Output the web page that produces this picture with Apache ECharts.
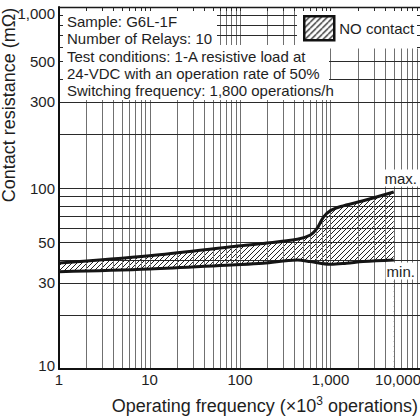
<!DOCTYPE html>
<html>
<head>
<meta charset="utf-8">
<script src="https://cdn.jsdelivr.net/npm/echarts@6/dist/echarts.min.js"></script>
<style>
html,body{margin:0;padding:0;background:#fff;}
#c{width:420px;height:418px;}
</style>
</head>
<body>
<div id="c"></div>
<script>
// ---------- data ----------
const maxX = [1, 10, 80, 180, 430, 600, 710, 840, 1000, 1300, 2300, 5000];
const maxY = [38.5, 42.3, 47.4, 49.4, 52.1, 55, 59.8, 69.3, 75, 79, 85, 95];
const minX = [1, 10, 80, 180, 430, 600, 1000, 1500, 2300, 5000];
const minY = [34.5, 35.7, 37.6, 38.4, 40, 39.2, 37.9, 38.4, 39.2, 40];

const xTickLabels = ['1', '10', '100', '1,000', '10,000'];
const yTickValues = [10, 30, 50, 100, 300, 500, 1000];
const yTickLabels = ['10', '30', '50', '100', '300', '500', '1,000'];
const xDecades = [1, 10, 100, 1000];
const mantissas = [1, 2, 3, 4, 5, 6, 7, 8, 9];
const yGrid = [20, 30, 40, 50, 60, 70, 80, 90, 100, 200, 300, 400, 500, 600, 700, 800, 900];
const noteLines = [
  'Sample: G6L-1F',
  'Number of Relays: 10',
  'Test conditions: 1-A resistive load at',
  '24-VDC with an operation rate of 50%',
  'Switching frequency: 1,800 operations/h'
];
const legendName = 'NO contact';
const maxLabel = 'max.';
const minLabel = 'min.';
const xTitle = ['Operating frequency (\u00d710', '3', ' operations)'];
const yTitle = 'Contact resistance (m\u03a9)';

// ---------- helpers ----------
const xGrid = [];
xDecades.forEach(d => mantissas.forEach(m => { if (d * m > 1) xGrid.push(d * m); }));
const maxPts = maxX.map((x, i) => [x, maxY[i]]);
const minPts = minX.map((x, i) => [x, minY[i]]);

const FONT = "'Liberation Sans', Arial, Helvetica, sans-serif";
const TXT = '#1e1e1e';
const FS = 15;
const X_MIN = 1, X_MAX = 10000, Y_MIN = 10, Y_MAX = 1000;
const SMOOTH = 0.35;

function makeHatch(size, lw, color) {
  const c = document.createElement('canvas');
  c.width = size; c.height = size;
  const g = c.getContext('2d');
  g.fillStyle = '#fff';
  g.fillRect(0, 0, size, size);
  g.strokeStyle = color;
  g.lineWidth = lw;
  g.beginPath();
  for (let k = -1; k <= 1; k++) {
    g.moveTo(k * size, size);
    g.lineTo(k * size + size, 0);
  }
  g.stroke();
  return c;
}
const hatch = { image: makeHatch(5, 1, '#222'), repeat: 'repeat', imageWidth: 5, imageHeight: 5 };
const hatchLegend = { image: makeHatch(6, 1.3, '#222'), repeat: 'repeat', imageWidth: 6, imageHeight: 6 };

function gridRender(params, api) {
  const cs = params.coordSys;
  const children = [];
  xGrid.forEach(v => {
    const px = Math.round(api.coord([v, Y_MIN])[0]) + 0.5;
    children.push({ type: 'line', shape: { x1: px, y1: cs.y, x2: px, y2: cs.y + cs.height },
      style: { stroke: '#707070', lineWidth: 1 } });
  });
  yGrid.forEach(v => {
    const py = Math.round(api.coord([X_MIN, v])[1]) + 0.5;
    children.push({ type: 'line', shape: { x1: cs.x, y1: py, x2: cs.x + cs.width, y2: py },
      style: { stroke: '#2a2a2a', lineWidth: 1 } });
  });
  return { type: 'group', children };
}

function tickRender(params, api) {
  const cs = params.coordSys;
  const L = 4;
  const children = [];
  const top = cs.y, bottom = cs.y + cs.height, left = cs.x, right = cs.x + cs.width;
  xGrid.forEach(v => {
    const px = Math.round(api.coord([v, Y_MIN])[0]) + 0.5;
    children.push({ type: 'line', shape: { x1: px, y1: top, x2: px, y2: top + L },
      style: { stroke: '#2a2a2a', lineWidth: 1 } });
  });
  yGrid.forEach(v => {
    const py = Math.round(api.coord([X_MIN, v])[1]) + 0.5;
    children.push({ type: 'line', shape: { x1: left, y1: py, x2: left + L, y2: py },
      style: { stroke: '#2a2a2a', lineWidth: 1 } });
    children.push({ type: 'line', shape: { x1: right - L, y1: py, x2: right, y2: py },
      style: { stroke: '#2a2a2a', lineWidth: 1 } });
  });
  children.push({ type: 'line', shape: { x1: left, y1: top + 0.5, x2: right, y2: top + 0.5 },
    style: { stroke: '#1a1a1a', lineWidth: 1.6 } });
  yTickValues.forEach((v, i) => {
    let py = api.coord([X_MIN, v])[1];
    py = Math.min(Math.max(py, top + 6), bottom - 4);
    children.push({ type: 'text', x: left - 4, y: py,
      style: { text: yTickLabels[i], fill: TXT, fontSize: FS, fontFamily: FONT,
        align: 'right', verticalAlign: 'middle' } });
  });
  return { type: 'group', children };
}

const chart = echarts.init(document.getElementById('c'), null, { renderer: 'svg', width: 420, height: 418 });

const option = {
  animation: false,
  backgroundColor: '#fff',
  textStyle: { fontFamily: FONT },
  grid: { left: 59, right: -1, top: 7, bottom: 49, containLabel: false, outerBoundsMode: 'none' },
  xAxis: {
    type: 'log', logBase: 10, min: X_MIN, max: X_MAX, z: 7,
    axisLine: { show: true, onZero: false, lineStyle: { color: '#111', width: 2 } },
    axisTick: { show: false },
    minorTick: { show: false },
    splitLine: { show: false },
    axisLabel: {
      show: true, margin: 3, fontSize: FS, color: TXT, fontFamily: FONT,
      alignMaxLabel: 'right', hideOverlap: false,
      formatter: v => xTickLabels[Math.round(Math.log10(v))]
    }
  },
  yAxis: {
    type: 'log', logBase: 10, min: Y_MIN, max: Y_MAX, z: 7,
    axisLine: { show: true, onZero: false, lineStyle: { color: '#111', width: 2 } },
    axisTick: { show: false },
    minorTick: { show: false },
    splitLine: { show: false },
    axisLabel: { show: false }
  },
  legend: {
    left: 297, top: 7, orient: 'horizontal',
    padding: [8, 6, 7, 6],
    backgroundColor: '#fff',
    itemWidth: 30, itemHeight: 24,
    selectedMode: false,
    z: 5,
    textStyle: { fontSize: FS, color: TXT, fontFamily: FONT },
    data: [{
      name: legendName, icon: 'rect',
      itemStyle: { color: hatchLegend, borderColor: '#111', borderWidth: 2.5 }
    }]
  },
  graphic: [
    { type: 'rect', z: 5, silent: true, shape: { x: 59, y: 7, width: 158, height: 38 }, style: { fill: '#fff' } },
    { type: 'rect', z: 5, silent: true, shape: { x: 59, y: 45, width: 270, height: 35 }, style: { fill: '#fff' } },
    { type: 'rect', z: 5, silent: true, shape: { x: 59, y: 80, width: 279, height: 20 }, style: { fill: '#fff' } },
    { type: 'text', z: 5, silent: true, x: 67, y: 13,
      style: { text: noteLines.join('\n'), fill: TXT, fontSize: FS, fontFamily: FONT, lineHeight: 17.2,
        align: 'left', verticalAlign: 'top' } },
    { type: 'text', z: 5, silent: true, x: 8.5, y: 105, rotation: Math.PI / 2,
      style: { text: yTitle, fill: TXT, fontSize: 18, fontFamily: FONT, align: 'center', verticalAlign: 'middle' } },
    { type: 'text', z: 5, silent: true, x: 418, y: 406,
      style: {
        text: '{a|' + xTitle[0] + '}{s|' + xTitle[1] + '}{a|' + xTitle[2] + '}',
        align: 'right', verticalAlign: 'middle', fill: TXT,
        rich: {
          a: { fontSize: 18, fontFamily: FONT, fill: TXT, lineHeight: 22 },
          s: { fontSize: 12, fontFamily: FONT, fill: TXT, verticalAlign: 'top', lineHeight: 15 }
        }
      } }
  ],
  series: [
    {
      name: legendName, type: 'line', data: maxPts, smooth: SMOOTH, symbol: 'none', silent: true, z: 1,
      lineStyle: { width: 0, opacity: 0 }, itemStyle: { color: '#fff' },
      areaStyle: { color: hatch, opacity: 1 }
    },
    {
      name: 'minFill', type: 'line', data: minPts, smooth: SMOOTH, symbol: 'none', silent: true, z: 2,
      lineStyle: { width: 0, opacity: 0 }, itemStyle: { color: '#fff' },
      areaStyle: { color: '#fff', opacity: 1 }
    },
    {
      name: 'grid', type: 'custom', renderItem: gridRender, data: [[X_MIN, Y_MIN]], silent: true, z: 3, clip: false
    },
    {
      name: 'max', type: 'line', data: maxPts, smooth: SMOOTH, symbol: 'none', silent: true, z: 4,
      lineStyle: { color: '#151515', width: 3 }, itemStyle: { color: '#151515' },
      markPoint: {
        silent: true, symbol: 'rect', symbolSize: 1, itemStyle: { color: 'rgba(0,0,0,0)' },
        label: { show: true, position: 'inside', offset: [7, -14], formatter: maxLabel, fontSize: FS,
          color: TXT, fontFamily: FONT, backgroundColor: '#fff', padding: [1, 1] },
        data: [{ coord: maxPts[maxPts.length - 1] }]
      }
    },
    {
      name: 'min', type: 'line', data: minPts, smooth: SMOOTH, symbol: 'none', silent: true, z: 4,
      lineStyle: { color: '#151515', width: 3 }, itemStyle: { color: '#151515' },
      markPoint: {
        silent: true, symbol: 'rect', symbolSize: 1, itemStyle: { color: 'rgba(0,0,0,0)' },
        label: { show: true, position: 'inside', offset: [7, 11], formatter: minLabel, fontSize: FS,
          color: TXT, fontFamily: FONT, backgroundColor: '#fff', padding: [1, 1] },
        data: [{ coord: minPts[minPts.length - 1] }]
      }
    },
    {
      name: 'ticks', type: 'custom', renderItem: tickRender, data: [[X_MIN, Y_MIN]], silent: true, z: 6, clip: false
    }
  ]
};
chart.setOption(option);
</script>
</body>
</html>
